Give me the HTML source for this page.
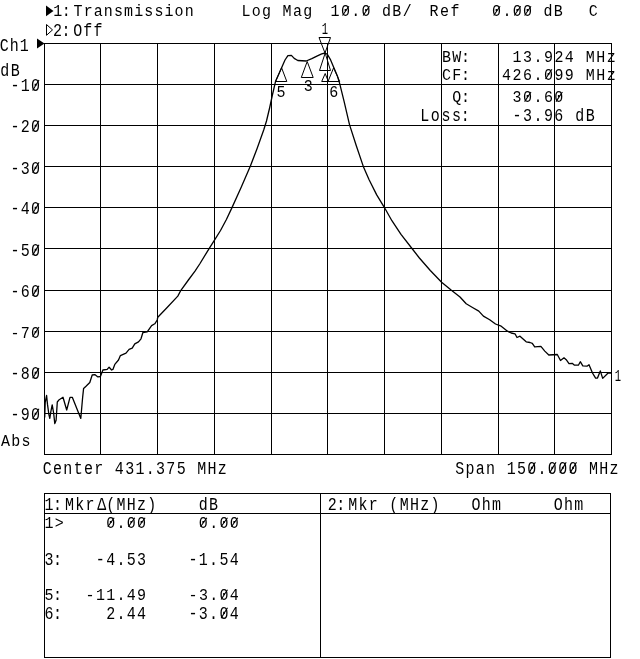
<!DOCTYPE html>
<html><head><meta charset="utf-8"><title>Transmission Log Mag</title>
<style>
html,body{margin:0;padding:0;background:#fff;}
#scr{position:relative;width:640px;height:659px;overflow:hidden;background:#fff;font-family:"Liberation Mono","DejaVu Sans Mono",monospace;color:#000;}
#scr svg{position:absolute;left:0;top:0;}
.t text{white-space:pre;font-family:"Liberation Mono","DejaVu Sans Mono",monospace;}
</style></head><body>
<div id="scr">
<svg width="640" height="659" viewBox="0 0 640 659" shape-rendering="crispEdges">
<path d="M44.5 43.0V455.0M100.5 43.0V455.0M157.5 43.0V455.0M214.5 43.0V455.0M271.5 43.0V455.0M327.5 43.0V455.0M384.5 43.0V455.0M441.5 43.0V455.0M498.5 43.0V455.0M554.5 43.0V455.0M611.5 43.0V455.0M44.0 43.5H612.0M44.0 84.5H612.0M44.0 125.5H612.0M44.0 166.5H612.0M44.0 207.5H612.0M44.0 248.5H612.0M44.0 290.5H612.0M44.0 331.5H612.0M44.0 372.5H612.0M44.0 413.5H612.0M44.0 454.5H612.0" stroke="#000" stroke-width="1" fill="none"/>
<path d="M44.5 493.5H610.5V657.5H44.5ZM44.5 513.5H610.5M320.5 493.5V657.5" stroke="#000" stroke-width="1" fill="none"/>
<g shape-rendering="auto">
<path d="M44.7 417.5 L45.2 402.5 L46.6 395.5 L47.5 404.4 L48.9 414.7 L49.8 418.4 L50.8 411.9 L52.2 404.8 L53.6 412.8 L54.8 423.6 L56.1 420.3 L57.3 402.0 L59.2 399.7 L63.0 397.3 L66.7 410.0 L70.0 397.3 L72.3 397.3 L80.8 418.4 L82.6 397.8 L83.6 388.4 L86.0 386.2 L89.8 382.5 L92.2 375.0 L94.8 374.6 L97.9 376.9 L100.4 376.5 L102.9 370.0 L107.2 369.4 L109.1 367.2 L111.6 370.0 L112.9 369.4 L114.8 364.4 L118.5 360.0 L120.4 355.6 L126.0 353.1 L129.1 349.4 L132.2 348.1 L134.8 343.8 L138.5 341.9 L141.0 338.8 L142.9 332.5 L147.2 331.9 L151.6 325.6 L154.8 323.8 L157.2 320.0 L157.8 317.2 L166.9 307.8 L177.8 296.1 L180.9 290.3 L188.4 280.0 L195.0 271.1 L199.7 264.0 L209.1 248.6 L214.5 240.2 L220.5 230.5 L226.4 219.5 L232.1 207.4 L241.2 187.2 L250.3 166.3 L257.2 148.2 L263.7 130.0 L266.5 121.0 L269.6 108.0 L272.4 95.0 L275.5 81.6 L281.6 67.8 L285.0 60.0 L287.9 55.6 L291.4 55.4 L294.2 58.4 L297.8 60.5 L306.2 61.0 L311.8 58.7 L317.4 55.9 L321.7 53.8 L325.2 53.0 L327.5 54.5 L330.3 59.3 L334.2 68.4 L337.4 76.0 L339.7 83.6 L344.2 101.8 L349.5 124.6 L356.3 145.8 L363.3 166.4 L369.1 179.7 L376.7 194.9 L384.3 207.3 L391.9 220.7 L401.0 234.4 L411.6 248.0 L419.4 258.0 L430.3 270.5 L441.6 282.2 L451.4 290.3 L460.0 297.0 L466.2 303.8 L472.5 307.5 L478.8 311.1 L483.4 316.1 L489.7 319.7 L495.5 324.0 L501.2 326.2 L507.5 331.2 L511.2 333.0 L515.0 333.8 L517.0 337.5 L520.0 336.2 L526.2 341.8 L530.0 342.5 L532.3 343.3 L534.7 346.9 L540.9 346.4 L544.8 351.1 L548.8 355.0 L557.3 354.5 L560.5 360.5 L564.0 357.8 L566.2 359.7 L569.0 363.6 L572.2 363.3 L574.5 365.2 L578.4 365.2 L580.3 361.7 L582.8 365.9 L587.0 366.2 L589.0 364.7 L592.5 373.0 L595.6 378.1 L597.5 378.1 L600.3 370.9 L602.7 378.4 L608.1 373.0 L611.2 373.0" stroke="#000" stroke-width="1.3" fill="none" stroke-linejoin="round"/>
<path d="M46 5.5V16.3L53.5 10.9Z" fill="#000"/>
<path d="M46.5 24.5V35.3L52.5 29.9Z" fill="none" stroke="#000"/>
<path d="M37 38.5V48.5L44.5 43.5Z" fill="#000"/>
<g fill="none" stroke="#000" stroke-width="1">
<path d="M319 37.5H330.5L325 53Z"/>
<path d="M325.2 53L319.5 70.5H330.5Z"/>
<path d="M325.2 73.5L321.7 81.5H328.3Z"/>
<path d="M307.2 61.5L301.3 77.5H313.2Z"/>
<path d="M281.6 67.8L275.5 81.5H286.8Z"/>
<path d="M333.6 67.8L328 81.5H339.7Z"/>
</g>
<path d="M342.5 15.5L348.9 6.3M363.1 15.5L369.5 6.3M493.7 15.5L500.1 6.3M514.3 15.5L520.7 6.3M524.6 15.5L531.0 6.3M32.6 90.5L39.0 80.0M32.6 131.2L39.0 120.8M32.6 172.7L39.0 162.2M32.6 213.2L39.0 203.2M32.6 255.1L39.0 244.8M32.6 295.9L39.0 285.8M32.6 336.8L39.0 327.0M32.6 378.2L39.0 368.1M32.6 418.7L39.0 408.8M529.0 472.9L535.4 462.3M549.6 472.9L556.0 462.3M559.9 472.9L566.2 462.3M570.1 472.9L576.5 462.3M545.5 79.0L551.9 69.2M524.6 101.6L531.0 92.0M556.0 101.6L562.4 92.0M107.8 526.8L114.2 517.8M128.4 526.8L134.8 517.8M138.7 526.8L145.1 517.8M200.5 526.8L206.9 517.8M221.1 526.8L227.5 517.8M231.4 526.8L237.8 517.8M221.1 599.5L227.5 589.8M221.1 618.2L227.5 607.8" stroke="#000" stroke-width="1.1" fill="none"/>
</g>
<g class="t" font-size="15" fill="#000" shape-rendering="auto">
<text xml:space="preserve" transform="translate(53.30,16.20) scale(1,1.0830)" letter-spacing="1.11">1<tspan dx="-1.7">:</tspan><tspan dx="1.7">Transmission</tspan></text>
<text xml:space="preserve" transform="translate(241.50,16.30) scale(1,1.0931)" letter-spacing="1.28">Log Mag</text>
<text xml:space="preserve" transform="translate(330.60,16.30) scale(1,1.0931)" letter-spacing="1.30">10.0 dB/</text>
<text xml:space="preserve" transform="translate(429.60,16.30) scale(1,1.0931)" letter-spacing="1.50">Ref</text>
<text xml:space="preserve" transform="translate(492.10,16.30) scale(1,1.0931)" letter-spacing="1.30">0.00 dB</text>
<text xml:space="preserve" transform="translate(588.70,16.30) scale(1,1.0931)" letter-spacing="1.30">C</text>
<text xml:space="preserve" transform="translate(53.00,36.25) scale(1,1.2196)" letter-spacing="1.10">2<tspan dx="-1.7">:</tspan><tspan dx="1.7">Off</tspan></text>
<text xml:space="preserve" transform="translate(-0.20,50.80) scale(1,1.1740)" letter-spacing="1.00">Ch1</text>
<text xml:space="preserve" transform="translate(0.30,75.80) scale(1,1.1740)" letter-spacing="1.40">dB</text>
<text xml:space="preserve" transform="translate(10.40,91.30) scale(1,1.2247)" letter-spacing="1.30">-10</text>
<text xml:space="preserve" transform="translate(10.40,132.00) scale(1,1.2145)" letter-spacing="1.30">-20</text>
<text xml:space="preserve" transform="translate(10.40,173.50) scale(1,1.2247)" letter-spacing="1.30">-30</text>
<text xml:space="preserve" transform="translate(10.40,214.00) scale(1,1.1740)" letter-spacing="1.30">-40</text>
<text xml:space="preserve" transform="translate(10.40,255.90) scale(1,1.2044)" letter-spacing="1.30">-50</text>
<text xml:space="preserve" transform="translate(10.40,296.70) scale(1,1.1842)" letter-spacing="1.30">-60</text>
<text xml:space="preserve" transform="translate(10.40,337.60) scale(1,1.1538)" letter-spacing="1.30">-70</text>
<text xml:space="preserve" transform="translate(10.40,379.00) scale(1,1.1842)" letter-spacing="1.30">-80</text>
<text xml:space="preserve" transform="translate(10.40,419.50) scale(1,1.1639)" letter-spacing="1.30">-90</text>
<text xml:space="preserve" transform="translate(1.00,445.70) scale(1,1.1032)" letter-spacing="1.20">Abs</text>
<text xml:space="preserve" transform="translate(42.75,473.75) scale(1,1.2398)" letter-spacing="1.31">Center 431.375 MHz</text>
<text xml:space="preserve" transform="translate(455.25,473.75) scale(1,1.2398)" letter-spacing="1.30">Span 150.000 MHz</text>
<text xml:space="preserve" transform="translate(442.00,61.70) scale(1,1.0931)" letter-spacing="1.30">BW<tspan dx="-1.7">:</tspan></text>
<text xml:space="preserve" transform="translate(442.00,79.80) scale(1,1.1538)" letter-spacing="1.30">CF<tspan dx="-1.7">:</tspan></text>
<text xml:space="preserve" transform="translate(452.30,102.40) scale(1,1.1336)" letter-spacing="1.30">Q<tspan dx="-1.7">:</tspan></text>
<text xml:space="preserve" transform="translate(420.20,120.60) scale(1,1.1842)" letter-spacing="1.60">Loss<tspan dx="-1.7">:</tspan></text>
<text xml:space="preserve" transform="translate(502.10,61.70) scale(1,1.0931)" letter-spacing="1.46"> 13.924 MHz</text>
<text xml:space="preserve" transform="translate(502.10,79.80) scale(1,1.1538)" letter-spacing="1.46">426.099 MHz</text>
<text xml:space="preserve" transform="translate(502.10,102.40) scale(1,1.1336)" letter-spacing="1.46"> 30.60</text>
<text xml:space="preserve" transform="translate(502.10,120.60) scale(1,1.1842)" letter-spacing="1.46"> -3.96 dB</text>
<text xml:space="preserve" transform="translate(321.75,34.30) scale(0.7,1.0425)" letter-spacing="0.00">1</text>
<text xml:space="preserve" transform="translate(303.80,91.00) scale(1,1.1336)" letter-spacing="0.00">3</text>
<text xml:space="preserve" transform="translate(276.60,96.60) scale(1,1.1336)" letter-spacing="0.00">5</text>
<text xml:space="preserve" transform="translate(329.25,96.60) scale(1,1.1336)" letter-spacing="0.00">6</text>
<text xml:space="preserve" transform="translate(614.85,381.40) scale(0.7,1.1538)" letter-spacing="0.00">1</text>
<text xml:space="preserve" transform="translate(44.40,510.00) scale(1,1.1842)" letter-spacing="1.30">1<tspan dx="-1.7">:</tspan><tspan dx="1.7">Mkr<tspan dx="1.5">Δ</tspan><tspan dx="-1.5">(MHz)    dB</tspan></tspan></text>
<text xml:space="preserve" transform="translate(44.40,527.60) scale(1,1.0728)" letter-spacing="1.30">1&gt;    0.00     0.00</text>
<text xml:space="preserve" transform="translate(44.40,564.50) scale(1,1.2145)" letter-spacing="1.30">3<tspan dx="-1.7">:</tspan><tspan dx="1.7">   -4.53    -1.54</tspan></text>
<text xml:space="preserve" transform="translate(44.40,600.30) scale(1,1.1437)" letter-spacing="1.30">5<tspan dx="-1.7">:</tspan><tspan dx="1.7">  -11.49    -3.04</tspan></text>
<text xml:space="preserve" transform="translate(44.40,619.00) scale(1,1.2145)" letter-spacing="1.30">6<tspan dx="-1.7">:</tspan><tspan dx="1.7">    2.44    -3.04</tspan></text>
<text xml:space="preserve" transform="translate(327.75,510.00) scale(1,1.2348)" letter-spacing="1.27">2<tspan dx="-1.7">:</tspan><tspan dx="1.7">Mkr (MHz)   Ohm     Ohm</tspan></text>
</g>
</svg>
</div>
</body></html>
